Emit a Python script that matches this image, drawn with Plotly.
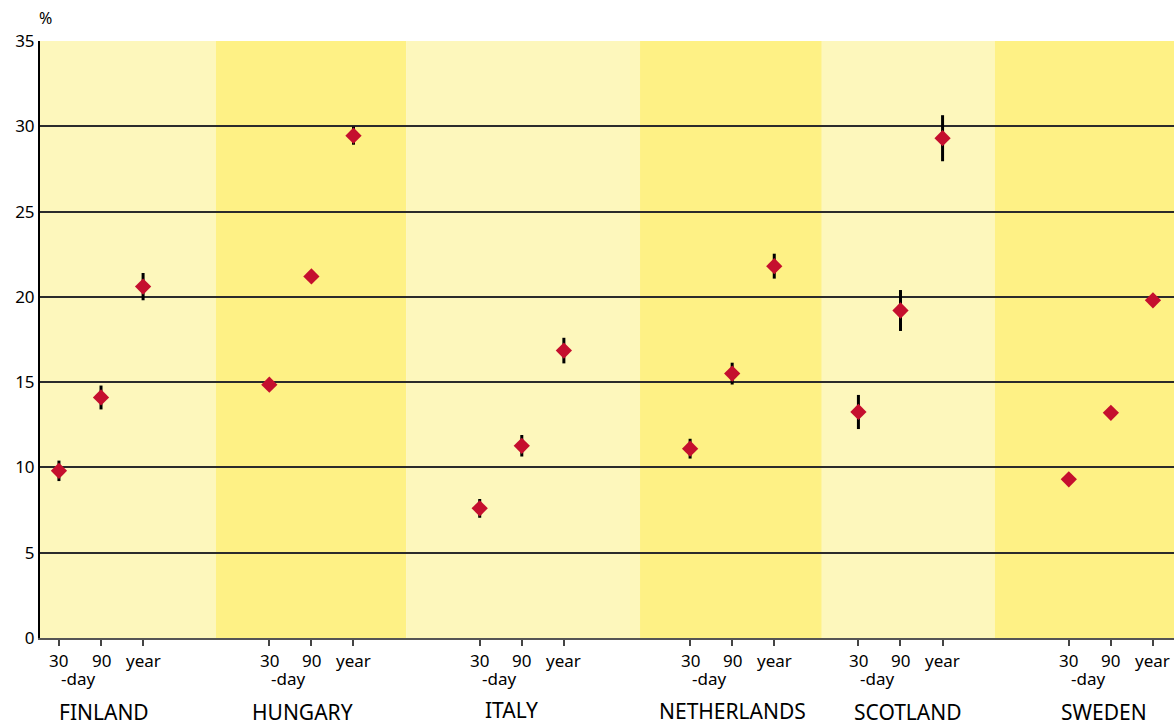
import plotly.graph_objects as go

# ---- data ----
countries = ["FINLAND", "HUNGARY", "ITALY", "NETHERLANDS", "SCOTLAND", "SWEDEN"]
periods = ["30", "90", "year"]
rate_30day = [9.8, 14.85, 7.6, 11.1, 13.25, 9.3]
rate_90day = [14.1, 21.2, 11.27, 15.5, 19.2, 13.2]
rate_year = [20.6, 29.45, 16.85, 21.8, 29.3, 19.8]
err_30day = [0.6, 0.3, 0.55, 0.58, 1.0, 0.2]
err_90day = [0.7, 0.3, 0.63, 0.64, 1.2, 0.2]
err_year = [0.8, 0.53, 0.75, 0.73, 1.35, 0.2]
y_ticks = [0, 5, 10, 15, 20, 25, 30, 35]

# ---- layout constants ----
group_start = [0.5, 5.5, 10.5, 15.5, 19.5, 24.5]
band_edges = [0.05, 4.23, 8.75, 14.31, 18.63, 22.74, 27.0]
band_colors = ["#FDF7BC", "#FEF185"]
label_xshift = [3, -9, -10, 0, 8, -7]
label_yshift = [-74, -74, -72, -73, -74, -74]

xs, ys, es = [], [], []
for i in range(len(countries)):
    for j, (vals, errs) in enumerate([(rate_30day, err_30day), (rate_90day, err_90day), (rate_year, err_year)]):
        xs.append(group_start[i] + j)
        ys.append(vals[i])
        es.append(errs[i])

fig = go.Figure()
fig.add_trace(go.Scatter(
    x=xs, y=ys, mode="markers",
    marker=dict(symbol="diamond", size=12.5, color="#C50F2E", line=dict(width=0)),
    error_y=dict(type="data", array=es, visible=True, color="black", thickness=3, width=0),
    showlegend=False, cliponaxis=False,
))

shapes = []
for i in range(len(countries)):
    shapes.append(dict(type="rect", xref="x", yref="paper", x0=band_edges[i], x1=band_edges[i + 1],
                       y0=0, y1=1, fillcolor=band_colors[i % 2], line=dict(width=0), layer="below"))

font_family = "Noto Sans, Open Sans, DejaVu Sans, sans-serif"
annotations = []
for i, c in enumerate(countries):
    for j, p in enumerate(periods):
        annotations.append(dict(x=group_start[i] + j, y=0, xref="x", yref="paper", text=p,
                                showarrow=False, yanchor="middle", xanchor="center", yshift=-22,
                                font=dict(size=17, color="black", family=font_family)))
    annotations.append(dict(x=group_start[i] + 0.45, y=0, xref="x", yref="paper", text="-day",
                            showarrow=False, yanchor="middle", xanchor="center", yshift=-40,
                            font=dict(size=17, color="black", family=font_family)))
    annotations.append(dict(x=group_start[i] + 1, y=0, xref="x", yref="paper", text=c,
                            showarrow=False, yanchor="middle", xanchor="center",
                            xshift=label_xshift[i], yshift=label_yshift[i],
                            font=dict(size=21, color="black", family=font_family)))
annotations.append(dict(x=0, y=1, xref="paper", yref="paper", text="%", showarrow=False,
                        xanchor="center", yanchor="middle", xshift=5, yshift=23,
                        font=dict(size=16, color="black", family=font_family)))

tickvals_x = [g + j for g in group_start for j in range(3)]

fig.update_layout(
    width=1174, height=727,
    margin=dict(l=40, r=0, t=41, b=89),
    paper_bgcolor="white", plot_bgcolor="white",
    shapes=shapes, annotations=annotations,
    font=dict(family=font_family, color="black"),
    xaxis=dict(range=[band_edges[0], band_edges[-1]], tickvals=tickvals_x, showticklabels=False,
               ticks="outside", ticklen=6, tickwidth=2, tickcolor="#444",
               showgrid=False, zeroline=False, showline=True, linecolor="#555", linewidth=2,
               fixedrange=True),
    yaxis=dict(range=[0, 35], tickvals=y_ticks, ticktext=[str(v) for v in y_ticks],
               showgrid=True, gridcolor="#2b2b2b", gridwidth=1.5, zeroline=False,
               showline=True, linecolor="black", linewidth=2, ticks="",
               tickfont=dict(size=17, color="black", family=font_family), fixedrange=True),
)

fig.write_html("out.html", config={"displayModeBar": False},
               post_script="document.body.style.margin='0';document.body.style.overflow='hidden';")
